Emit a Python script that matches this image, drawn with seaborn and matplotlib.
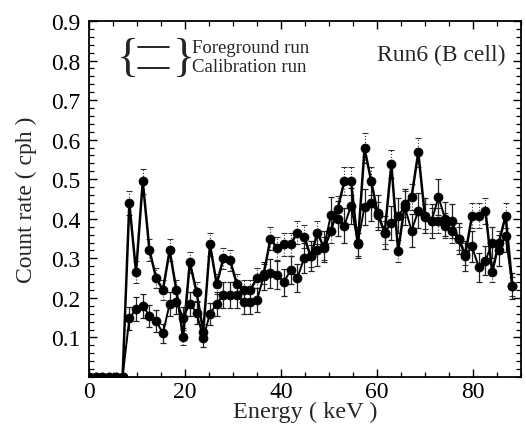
import numpy as np
import pandas as pd
import matplotlib
matplotlib.use("Agg")
import matplotlib.pyplot as plt
import seaborn as sns
from matplotlib.ticker import MultipleLocator, FixedLocator

# ---------------- data ----------------
energy = [0.0, 1.4, 2.8, 4.2, 5.6, 7.0, 8.4, 9.8, 11.2, 12.6,
          14.0, 15.4, 16.8, 18.2, 19.6, 21.0, 22.4, 23.8, 25.2, 26.6,
          28.0, 29.4, 30.8, 32.2, 33.6, 35.0, 36.4, 37.8, 39.2, 40.6,
          42.0, 43.4, 44.8, 46.2, 47.6, 49.0, 50.4, 51.8, 53.2, 54.6,
          56.0, 57.4, 58.8, 60.2, 61.6, 63.0, 64.4, 65.8, 67.2, 68.6,
          70.0, 71.4, 72.8, 74.2, 75.6, 77.0, 78.4, 79.8, 81.2, 82.6,
          84.0, 85.4, 86.8, 88.2]

foreground = [0, 0, 0, 0, 0, 0, 0.44, 0.265, 0.495, 0.32,
              0.25, 0.22, 0.32, 0.22, 0.10, 0.29, 0.215, 0.115, 0.335, 0.235,
              0.30, 0.295, 0.235, 0.22, 0.22, 0.25, 0.26, 0.35, 0.325, 0.335,
              0.335, 0.365, 0.355, 0.305, 0.365, 0.325, 0.37, 0.425, 0.495, 0.495,
              0.335, 0.578, 0.495, 0.41, 0.365, 0.538, 0.318, 0.437, 0.455, 0.568,
              0.405, 0.395, 0.395, 0.383, 0.37, 0.35, 0.31, 0.408, 0.408, 0.42,
              0.265, 0.34, 0.408, 0.23]

calibration = [0, 0, 0, 0, 0, 0, 0.148, 0.172, 0.18, 0.155,
               0.142, 0.11, 0.185, 0.19, 0.15, 0.185, 0.163, 0.098, 0.16, 0.185,
               0.207, 0.207, 0.207, 0.19, 0.19, 0.195, 0.255, 0.262, 0.258, 0.24,
               0.27, 0.25, 0.30, 0.305, 0.32, 0.33, 0.41, 0.40, 0.383, 0.433,
               0.34, 0.43, 0.44, 0.415, 0.365, 0.39, 0.408, 0.43, 0.37, 0.42,
               0.408, 0.395, 0.455, 0.40, 0.395, 0.35, 0.305, 0.33, 0.277, 0.294,
               0.34, 0.32, 0.357, 0.23]

foreground_err = [0, 0, 0, 0, 0, 0, 0.030, 0.028, 0.032, 0.028,
                  0.026, 0.025, 0.028, 0.025, 0.020, 0.027, 0.025, 0.020, 0.028, 0.025,
                  0.027, 0.027, 0.025, 0.024, 0.024, 0.025, 0.026, 0.030, 0.028, 0.029,
                  0.029, 0.030, 0.030, 0.028, 0.030, 0.028, 0.031, 0.033, 0.035, 0.035,
                  0.029, 0.038, 0.035, 0.032, 0.030, 0.036, 0.028, 0.033, 0.033, 0.037,
                  0.032, 0.031, 0.031, 0.031, 0.030, 0.029, 0.028, 0.032, 0.032, 0.032,
                  0.026, 0.029, 0.032, 0.024]

calibration_err = [0, 0, 0, 0, 0, 0, 0.028, 0.030, 0.030, 0.028,
                   0.027, 0.024, 0.030, 0.030, 0.027, 0.030, 0.028, 0.022, 0.028, 0.030,
                   0.032, 0.032, 0.032, 0.030, 0.030, 0.031, 0.035, 0.036, 0.035, 0.034,
                   0.036, 0.035, 0.038, 0.038, 0.039, 0.040, 0.044, 0.044, 0.043, 0.045,
                   0.040, 0.045, 0.046, 0.044, 0.041, 0.043, 0.044, 0.045, 0.042, 0.044,
                   0.044, 0.043, 0.046, 0.043, 0.043, 0.040, 0.038, 0.040, 0.036, 0.037,
                   0.040, 0.039, 0.041, 0.034]

x_ticks = [0, 20, 40, 60, 80]
y_ticks = [0.1, 0.2, 0.3, 0.4, 0.5, 0.6, 0.7, 0.8, 0.9]

# ---------------- style ----------------
sns.set_style("ticks")
plt.rcParams["font.family"] = ["Liberation Serif", "DejaVu Serif"]

fig = plt.figure(figsize=(5.26, 4.31), dpi=100)
ax = fig.add_axes([89 / 526, 53 / 431, 432 / 526, 356 / 431])

df_fg = pd.DataFrame({"Energy": energy, "Rate": foreground})
df_cal = pd.DataFrame({"Energy": energy, "Rate": calibration})

# error bars
eb1 = ax.errorbar(energy, foreground, yerr=foreground_err, fmt="none",
                  ecolor="#333333", elinewidth=0.8, capsize=2.5, capthick=0.8, zorder=2)
for c in eb1[2]:
    c.set_linestyle(":")
eb2 = ax.errorbar(energy, calibration, yerr=calibration_err, fmt="none",
                  ecolor="#222222", elinewidth=0.9, capsize=2.5, capthick=0.9, zorder=2)

sns.lineplot(data=df_cal, x="Energy", y="Rate", ax=ax, color="black",
             linewidth=1.4, marker="o", markersize=6.5, markeredgecolor="black",
             markeredgewidth=0.5, zorder=3)
sns.lineplot(data=df_fg, x="Energy", y="Rate", ax=ax, color="black",
             linewidth=1.8, marker="o", markersize=6.5, markeredgecolor="black",
             markeredgewidth=0.5, zorder=4)

ax.set_xlim(0, 90)
ax.set_ylim(0, 0.9)
ax.xaxis.set_major_locator(FixedLocator(x_ticks))
ax.xaxis.set_minor_locator(MultipleLocator(5))
ax.yaxis.set_major_locator(FixedLocator(y_ticks))
ax.yaxis.set_minor_locator(MultipleLocator(0.02))
ax.set_xticklabels([str(t) for t in x_ticks])
ax.set_yticklabels([f"{t:.1f}" for t in y_ticks])

ax.tick_params(which="both", direction="in", top=True, right=True, colors="black")
ax.tick_params(which="major", length=6, width=1.0, labelsize=17)
ax.tick_params(axis="x", which="major", pad=3)
ax.tick_params(axis="y", which="major", pad=6)
ax.tick_params(which="minor", length=3.5, width=0.9)
for s in ax.spines.values():
    s.set_linewidth(1.3)
    s.set_color("black")

ax.set_xlabel("Energy ( keV )", fontsize=17.5, labelpad=-1)
ax.set_ylabel("Count rate ( cph )", fontsize=17, labelpad=10)

# legend drawn by hand
ax.text(0.09, 0.895, "{", transform=ax.transAxes, fontsize=33, ha="center", va="center")
ax.text(0.22, 0.895, "}", transform=ax.transAxes, fontsize=33, ha="center", va="center")
ax.plot([0.113, 0.185], [0.927, 0.927], transform=ax.transAxes, color="black", lw=1.2)
ax.plot([0.113, 0.185], [0.868, 0.868], transform=ax.transAxes, color="black", lw=1.2)
ax.text(0.238, 0.925, "Foreground run", transform=ax.transAxes, fontsize=13.5,
        ha="left", va="center")
ax.text(0.238, 0.872, "Calibration run", transform=ax.transAxes, fontsize=13.5,
        ha="left", va="center")
ax.text(0.965, 0.905, "Run6 (B cell)", transform=ax.transAxes, fontsize=17,
        ha="right", va="center")

fig.savefig("out.png", dpi=100)
